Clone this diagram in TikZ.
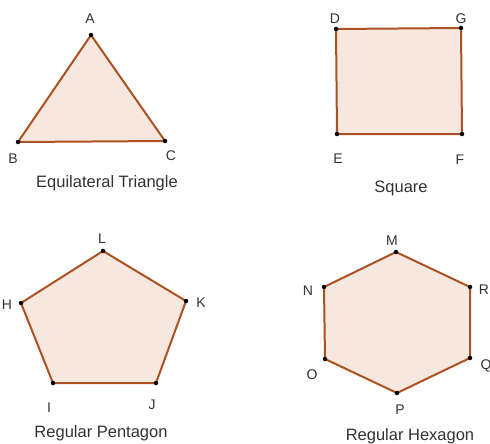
\documentclass[tikz,border=0pt]{standalone}
\usepackage{fontspec}
\setmainfont{Liberation Sans}
\definecolor{edge}{RGB}{172,82,34}
\definecolor{face}{RGB}{246,231,223}
\definecolor{ink}{RGB}{50,50,50}
\begin{document}
\begin{tikzpicture}[x=1pt,y=-1pt,
  poly/.style={draw=edge,fill=face,line width=2pt,line join=round},
  vdot/.style={fill=black,circle,inner sep=0pt,minimum size=4.5pt},
  lbl/.style={text=ink,font=\fontsize{14}{16}\selectfont,inner sep=0pt},
  captext/.style={text=ink,font=\fontsize{16.5}{19}\selectfont,inner sep=0pt}]
\useasboundingbox (0,0) rectangle (490,444);
% Triangle
\coordinate (A) at (91,35);
\coordinate (B) at (18,142);
\coordinate (C) at (165,141);
\draw[poly] (A) -- (B) -- (C) -- cycle;
\foreach \p in {A,B,C} \node[vdot] at (\p) {};
\node[lbl] (lA) at (90,19) {A};
\node[lbl] (lB) at (13,159) {B};
\node[lbl] (lC) at (171,156) {C};
\node[captext] (cT) at (107,183) {Equilateral Triangle};
% Square
\coordinate (D) at (336,29);
\coordinate (G) at (461,28);
\coordinate (F) at (462,134);
\coordinate (E) at (337,134);
\draw[poly] (D) -- (G) -- (F) -- (E) -- cycle;
\foreach \p in {D,G,E,F} \node[vdot] at (\p) {};
\node[lbl] (lD) at (335,19) {D};
\node[lbl] (lG) at (461,19) {G};
\node[lbl] (lE) at (338,159) {E};
\node[lbl] (lF) at (460,160) {F};
\node[captext] (cS) at (401,188) {Square};
% Pentagon
\coordinate (L) at (103,251);
\coordinate (K) at (186,301);
\coordinate (J) at (156,383);
\coordinate (I) at (53,383);
\coordinate (H) at (21,303);
\draw[poly] (L) -- (K) -- (J) -- (I) -- (H) -- cycle;
\foreach \p in {L,K,J,I,H} \node[vdot] at (\p) {};
\node[lbl] (lL) at (102,239) {L};
\node[lbl] (lK) at (201,303) {K};
\node[lbl] (lJ) at (152,405) {J};
\node[lbl] (lI) at (49,408) {I};
\node[lbl] (lH) at (7,305) {H};
\node[captext] (cP) at (101,433) {Regular Pentagon};
% Hexagon
\coordinate (M) at (396,252);
\coordinate (R) at (470,287);
\coordinate (Q) at (470,358);
\coordinate (P) at (397,393);
\coordinate (O) at (325,359);
\coordinate (N) at (324,287);
\draw[poly] (M) -- (R) -- (Q) -- (P) -- (O) -- (N) -- cycle;
\foreach \p in {M,R,Q,P,O,N} \node[vdot] at (\p) {};
\node[lbl] (lM) at (392,241) {M};
\node[lbl] (lR) at (484,290) {R};
\node[lbl] (lQ) at (486,366) {Q};
\node[lbl] (lP) at (400,410) {P};
\node[lbl] (lO) at (312,375) {O};
\node[lbl] (lN) at (308,291) {N};
\node[captext] (cH) at (410,436) {Regular Hexagon};
\end{tikzpicture}
\end{document}
